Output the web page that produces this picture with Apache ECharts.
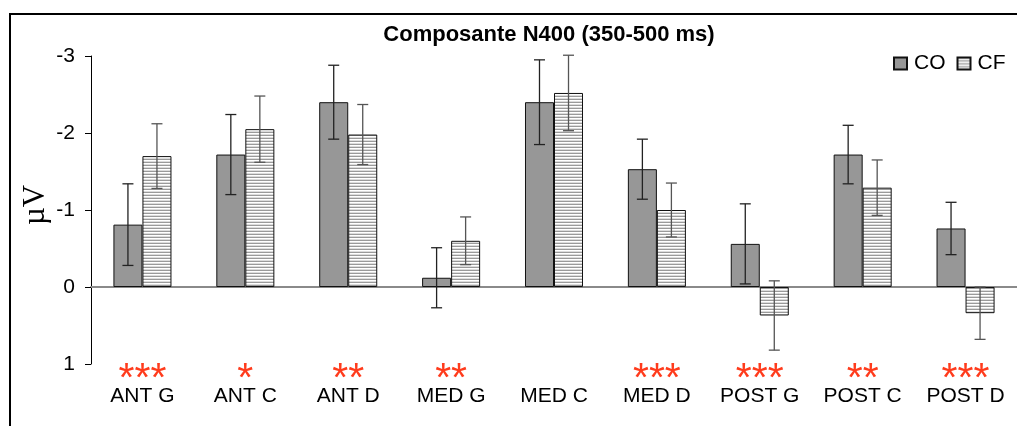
<!DOCTYPE html>
<html>
<head>
<meta charset="utf-8">
<script src="https://cdn.jsdelivr.net/npm/echarts@6/dist/echarts.min.js"></script>
<style>html,body{margin:0;padding:0;background:#fff;}#c{width:1017px;height:426px;}</style>
</head>
<body>
<div id="c"></div>
<script>
var categories = ['ANT G','ANT C','ANT D','MED G','MED C','MED D','POST G','POST C','POST D'];
var stars = ['***','*','**','**','','***','***','**','***'];
var coValues = [-0.81,-1.72,-2.40,-0.12,-2.40,-1.53,-0.56,-1.72,-0.76];
var coErrors = [0.53,0.52,0.48,0.39,0.55,0.39,0.52,0.38,0.34];
var cfValues = [-1.70,-2.05,-1.98,-0.60,-2.52,-1.00,0.37,-1.29,0.34];
var cfErrors = [0.42,0.43,0.39,0.31,0.49,0.35,0.45,0.36,0.34];
var seriesNames = ['CO','CF'];

var FONT = '"Liberation Sans", Arial, sans-serif';

// stripe pattern for CF
var pc = document.createElement('canvas');
pc.width = 4; pc.height = 3;
var pctx = pc.getContext('2d');
pctx.fillStyle = '#ffffff'; pctx.fillRect(0,0,4,3);
pctx.fillStyle = '#9a9a9a'; pctx.fillRect(0,0,4,1);
pctx.fillStyle = '#dcdcdc'; pctx.fillRect(0,2,4,1);
var stripe = {image: pc, repeat: 'repeat'};

function errData(vals, errs) {
  return vals.map(function (v, i) { return [i, v, errs[i]]; });
}
function errRender(side, color) {
  return function (params, api) {
    var i = api.value(0), v = api.value(1), e = api.value(2);
    var band = api.size([1, 0])[0];
    var dx = side * band * 0.141;
    var top = api.coord([i, v - e]);
    var bot = api.coord([i, v + e]);
    var x = top[0] + dx;
    var cap = 5.5;
    var st = {stroke: color, lineWidth: 1.3};
    return {type: 'group', children: [
      {type: 'line', shape: {x1: x, y1: top[1], x2: x, y2: bot[1]}, style: st},
      {type: 'line', shape: {x1: x - cap, y1: top[1], x2: x + cap, y2: top[1]}, style: st},
      {type: 'line', shape: {x1: x - cap, y1: bot[1], x2: x + cap, y2: bot[1]}, style: st}
    ]};
  };
}

var chart = echarts.init(document.getElementById('c'), null, {renderer: 'canvas'});
chart.setOption({
  animation: false,
  backgroundColor: '#ffffff',
  grid: {left: 91, right: -14.5, top: 56, bottom: 62, containLabel: false},
  legend: {
    data: seriesNames,
    orient: 'horizontal',
    left: 893, top: 53, width: 200, padding: 0,
    itemWidth: 13, itemHeight: 12, itemGap: 11,
    icon: 'rect',
    textStyle: {fontFamily: FONT, fontSize: 21, color: '#000', padding: [0,0,0,2]}
  },
  xAxis: [
    {
      type: 'category', data: categories, position: 'bottom',
      axisLine: {onZero: true, lineStyle: {color: '#8a8a8a', width: 2}},
      axisTick: {inside: true, length: 5, lineStyle: {color: '#555', width: 1}},
      axisLabel: {show: false}
    },
    {
      type: 'category', data: categories, position: 'bottom',
      axisLine: {show: false, onZero: false}, axisTick: {show: false},
      axisLabel: {
        margin: -5, interval: 0, fontFamily: FONT, fontSize: 41, color: '#ff3b1c',
        formatter: function (v, i) { return stars[i]; }
      }
    },
    {
      type: 'category', data: categories, position: 'bottom',
      axisLine: {show: false, onZero: false}, axisTick: {show: false},
      axisLabel: {margin: 22, interval: 0, fontFamily: FONT, fontSize: 21, color: '#000'}
    }
  ],
  yAxis: {
    type: 'value', inverse: true, min: -3, max: 1, interval: 1,
    axisLine: {show: true, lineStyle: {color: '#000', width: 1}},
    axisTick: {show: true, length: 6, lineStyle: {color: '#000'}},
    splitLine: {show: false},
    axisLabel: {margin: 16, fontFamily: FONT, fontSize: 21, color: '#000'}
  },
  series: [
    {
      name: seriesNames[0], type: 'bar', data: coValues, xAxisIndex: 0,
      barWidth: '28.2%', barGap: '0%',
      itemStyle: {color: '#979797', borderColor: '#111', borderWidth: 1}
    },
    {
      name: seriesNames[1], type: 'bar', data: cfValues, xAxisIndex: 0,
      barWidth: '28.2%', barGap: '0%',
      itemStyle: {color: stripe, borderColor: '#111', borderWidth: 1}
    },
    {
      type: 'custom', xAxisIndex: 0, z: 5, data: errData(coValues, coErrors),
      encode: {x: 0, y: 1}, renderItem: errRender(-1, '#222'), silent: true
    },
    {
      type: 'custom', xAxisIndex: 0, z: 5, data: errData(cfValues, cfErrors),
      encode: {x: 0, y: 1}, renderItem: errRender(1, '#555'), silent: true
    }
  ],
  graphic: [
    {type: 'rect', shape: {x: 10, y: 14, width: 1030, height: 430}, style: {fill: null, stroke: '#000', lineWidth: 2}, z: 100},
    {type: 'text', x: 549, y: 35, style: {text: 'Composante N400 (350-500 ms)', font: 'bold 22px ' + FONT, fill: '#000', textAlign: 'center', textVerticalAlign: 'middle'}},
    {type: 'text', x: 36, y: 205, rotation: Math.PI / 2, style: {text: 'µV', font: '31px "Liberation Serif", "Times New Roman", serif', fill: '#000', textAlign: 'center', textVerticalAlign: 'middle'}}
  ]
});
</script>
</body>
</html>
